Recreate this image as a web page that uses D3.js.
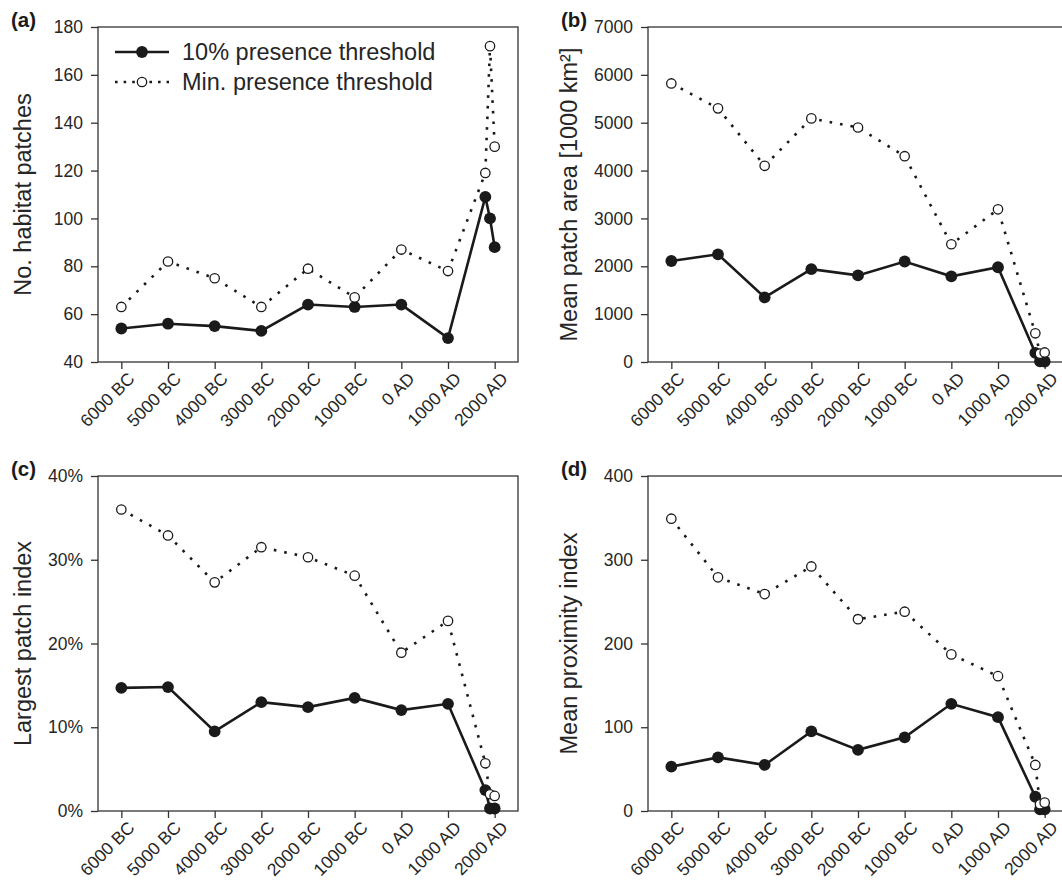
<!DOCTYPE html>
<html>
<head>
<meta charset="utf-8">
<script src="https://cdnjs.cloudflare.com/ajax/libs/d3/7.8.5/d3.min.js"></script>
<style>
  html, body { margin: 0; padding: 0; background: #fff; }
  svg { display: block; font-family: "Liberation Sans", Arial, sans-serif; }
</style>
</head>
<body>
<svg id="chart" width="1062" height="881"></svg>
<script>
// time points (negative = BC)
const years = [-6000, -5000, -4000, -3000, -2000, -1000, 0, 1000, 1800, 1900, 2000];
const tickYears = [-6000, -5000, -4000, -3000, -2000, -1000, 0, 1000, 2000];
const tickLabels = ['6000 BC', '5000 BC', '4000 BC', '3000 BC', '2000 BC', '1000 BC', '0 AD', '1000 AD', '2000 AD'];

// (a) number of habitat patches
const patches10  = [54, 56, 55, 53, 64, 63, 64, 50, 109, 100, 88];
const patchesMin = [63, 82, 75, 63, 79, 67, 87, 78, 119, 172, 130];
// (b) mean patch area [1000 km2]
const area10  = [2110, 2250, 1350, 1940, 1810, 2100, 1790, 1980, 190, 15, 10];
const areaMin = [5820, 5300, 4100, 5090, 4900, 4300, 2460, 3190, 600, 175, 200];
// (c) largest patch index [%]
const lpi10  = [14.7, 14.8, 9.5, 13.0, 12.4, 13.5, 12.05, 12.8, 2.5, 0.3, 0.3];
const lpiMin = [36.0, 32.9, 27.3, 31.5, 30.3, 28.1, 18.9, 22.7, 5.7, 2.0, 1.8];
// (d) mean proximity index
const prox10  = [53, 64, 55, 95, 73, 88, 128, 112, 17, 2, 2];
const proxMin = [349, 279, 259, 292, 229, 238, 187, 161, 55, 8, 10];

const legendLabels = ['10% presence threshold', 'Min. presence threshold'];

const panels = [
  { tag: '(a)', x: 98,  y: 27,  title: 'No. habitat patches', titleX: 31,
    dom: [40, 180], ticks: d3.range(40, 181, 20), fmt: d => d, a: patches10, b: patchesMin, legend: true },
  { tag: '(b)', x: 648, y: 27,  title: 'Mean patch area [1000 km²]', titleX: 577,
    dom: [0, 7000], ticks: d3.range(0, 7001, 1000), fmt: d => d, a: area10, b: areaMin },
  { tag: '(c)', x: 98,  y: 476, title: 'Largest patch index', titleX: 31,
    dom: [0, 40], ticks: d3.range(0, 41, 10), fmt: d => d + '%', a: lpi10, b: lpiMin },
  { tag: '(d)', x: 648, y: 476, title: 'Mean proximity index', titleX: 577,
    dom: [0, 400], ticks: d3.range(0, 401, 100), fmt: d => d, a: prox10, b: proxMin }
];

const W = 420, H = 335;
const INK = '#1a1a1a', TXT = '#262626';
const svg = d3.select('#chart');

panels.forEach(p => {
  const g = svg.append('g').attr('transform', `translate(${p.x},${p.y})`);
  const x = d3.scaleLinear().domain([-6500, 2500]).range([0, W]);
  const y = d3.scaleLinear().domain(p.dom).range([H, 0]);

  // frame
  g.append('rect').attr('width', W).attr('height', H)
    .attr('fill', 'none').attr('stroke', '#333').attr('stroke-width', 1.3);

  // axes
  const ya = g.append('g').call(d3.axisLeft(y).tickValues(p.ticks).tickFormat(p.fmt).tickSize(7).tickPadding(8));
  const xa = g.append('g').attr('transform', `translate(0,${H})`)
    .call(d3.axisBottom(x).tickValues(tickYears).tickFormat((d, i) => tickLabels[i]).tickSize(7));
  [ya, xa].forEach(a => {
    a.select('.domain').remove();
    a.selectAll('line').attr('stroke', '#333').attr('stroke-width', 1.3);
    a.selectAll('text').attr('fill', TXT).style('font-size', '17.5px')
      .style('font-family', '"Liberation Sans", Arial, sans-serif');
  });
  xa.selectAll('text')
    .attr('text-anchor', 'end')
    .attr('transform', 'translate(5,9) rotate(-45)')
    .attr('dy', '0.71em').attr('y', 0).attr('x', 0);

  // axis title
  svg.append('text')
    .attr('transform', `translate(${p.titleX},${p.y + H / 2}) rotate(-90)`)
    .attr('text-anchor', 'middle').attr('fill', TXT)
    .style('font-size', '23.5px').text(p.title);

  // panel tag
  svg.append('text').attr('x', p.x - 87).attr('y', p.y)
    .attr('fill', INK).style('font-size', '20.5px').style('font-weight', 'bold').text(p.tag);

  const line = d3.line().x((d, i) => x(years[i])).y(d => y(d));

  // 10% threshold: solid line, filled dots
  g.append('path').datum(p.a).attr('d', line)
    .attr('fill', 'none').attr('stroke', INK).attr('stroke-width', 2.6);
  g.selectAll('.dotA').data(p.a).join('circle')
    .attr('cx', (d, i) => x(years[i])).attr('cy', d => y(d)).attr('r', 5.9)
    .attr('fill', INK);

  // minimum threshold: dotted line, open dots
  g.append('path').datum(p.b).attr('d', line)
    .attr('fill', 'none').attr('stroke', INK).attr('stroke-width', 2.6)
    .attr('stroke-dasharray', '2.6,8');
  g.selectAll('.dotB').data(p.b).join('circle')
    .attr('cx', (d, i) => x(years[i])).attr('cy', d => y(d)).attr('r', 4.7)
    .attr('fill', '#fff').attr('stroke', INK).attr('stroke-width', 1.3);

  if (p.legend) {
    const lg = g.append('g').attr('transform', 'translate(17,25)');
    legendLabels.forEach((lab, k) => {
      const r = lg.append('g').attr('transform', `translate(0,${k * 30})`);
      r.append('line').attr('x1', 0).attr('x2', 54)
        .attr('stroke', INK).attr('stroke-width', 2.6)
        .attr('stroke-dasharray', k ? '2.6,6' : null);
      r.append('circle').attr('cx', 27).attr('r', k ? 4.7 : 5.9)
        .attr('fill', k ? '#fff' : INK).attr('stroke', INK).attr('stroke-width', k ? 1.3 : 0);
      r.append('text').attr('x', 67).attr('dy', '0.36em').attr('fill', TXT)
        .style('font-size', '23.5px').text(lab);
    });
  }
});
</script>
</body>
</html>
